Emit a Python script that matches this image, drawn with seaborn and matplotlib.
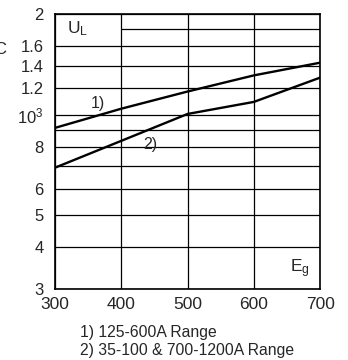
import matplotlib
matplotlib.use('Agg')
import matplotlib.pyplot as plt
import seaborn as sns
import pandas as pd

# ── data
eg = [300, 400, 500, 600, 700]
curve_1 = [912, 1041, 1172, 1310, 1430]   # 1) 125-600A Range
curve_2 = [693, 834, 1004, 1091, 1290]    # 2) 35-100 & 700-1200A Range

x_ticks = [300, 400, 500, 600, 700]
y_ticks = [300, 400, 500, 600, 800, 1000, 1200, 1400, 1600, 2000]
y_labels = ['3', '4', '5', '6', '8', r'$\mathregular{10^3}$', '1.2', '1.4', '1.6', '2']
y_minor = [700, 900]
notes = ['1) 125-600A Range', '2) 35-100 & 700-1200A Range']

sns.set_style('white')
plt.rcParams['font.family'] = ['Liberation Sans', 'DejaVu Sans']
plt.rcParams['mathtext.fontset'] = 'custom'
plt.rcParams['mathtext.rm'] = 'Liberation Sans'
plt.rcParams['mathtext.it'] = 'Liberation Sans'

df = pd.DataFrame({
    'Eg': eg * 2,
    'UL': curve_1 + curve_2,
    'curve': ['1'] * len(eg) + ['2'] * len(eg),
})

fig = plt.figure(figsize=(3.48, 3.6), dpi=100)
ax = fig.add_axes([0.158, 0.197, 0.762, 0.764])

sns.lineplot(data=df, x='Eg', y='UL', units='curve', estimator=None,
             color='black', linewidth=1.7, ax=ax, legend=False)

ax.set_yscale('log')
ax.set_xlim(300, 700)
ax.set_ylim(300, 2000)

ax.set_xticks(x_ticks)
ax.set_xticklabels([str(v) for v in x_ticks], fontsize=12.5)
ax.set_yticks(y_ticks)
ax.set_yticklabels(y_labels, fontsize=12)
ax.set_yticks(y_minor, minor=True)
ax.tick_params(axis='both', which='both', length=0)
ax.tick_params(axis='x', pad=6)
ax.tick_params(axis='y', pad=8)

ax.grid(True, which='both', color='black', linewidth=0.9)
# top gridline (1.8) leaves room for the U_L label
ax.hlines(1800, 400, 700, color='black', linewidth=0.9)
ax.set_axisbelow(True)

for s in ax.spines.values():
    s.set_color('black')
    s.set_linewidth(1.2)

ax.set_xlabel('')
ax.set_ylabel('')

ax.text(318, 1810, r'$\mathregular{U_L}$', fontsize=12.5, ha='left', va='center')
ax.text(654, 345, r'$\mathregular{E_g}$', fontsize=12.5, ha='left', va='center')
ax.text(365, 1080, '1)', fontsize=11.5, ha='center', va='center')
ax.text(444, 815, '2)', fontsize=11.5, ha='center', va='center')

# clipped axis-title remnant at the left edge
fig.text(0.0, 0.862, 'C', fontsize=12, ha='center', va='center')

fig.text(0.23, 1 - 332 / 360, notes[0], fontsize=11.3, ha='left', va='center')
fig.text(0.23, 1 - 350 / 360, notes[1], fontsize=11.3, ha='left', va='center')

fig.savefig('out.png', dpi=100)
plt.close(fig)
